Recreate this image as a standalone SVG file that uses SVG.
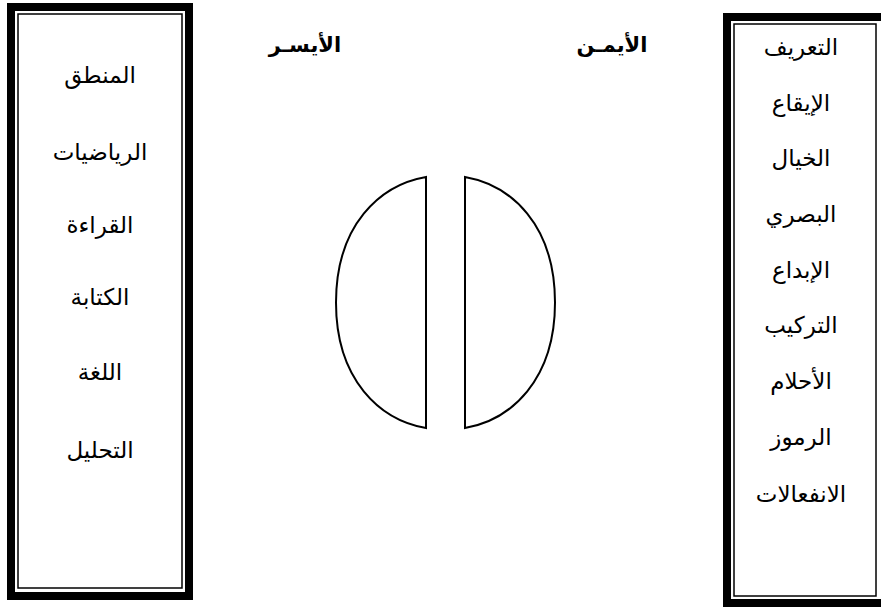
<svg xmlns="http://www.w3.org/2000/svg" width="881" height="608" viewBox="0 0 881 608">
<style>
.thick{fill:none;stroke:#000;stroke-width:8}
.thin{fill:none;stroke:#000;stroke-width:1.5}
.t{font-family:"Liberation Sans","DejaVu Sans",sans-serif;font-size:23px;fill:#000;text-anchor:middle}
.h{font-family:"Liberation Serif","DejaVu Sans",serif;font-size:21px;font-weight:bold;fill:#000;text-anchor:middle}
.half{fill:#fff;stroke:#000;stroke-width:2}
</style>
<rect width="881" height="608" fill="#fff"/>
<g id="left-box">
<rect class="thick" x="11" y="7" width="178" height="589"/>
<rect class="thin" x="18" y="14" width="164" height="574"/>
<text class="t" direction="rtl" x="100" y="83">المنطق</text>
<text class="t" direction="rtl" x="100" y="160">الرياضيات</text>
<text class="t" direction="rtl" x="100" y="233">القراءة</text>
<text class="t" direction="rtl" x="100" y="305">الكتابة</text>
<text class="t" direction="rtl" x="100" y="380">اللغة</text>
<text class="t" direction="rtl" x="100" y="458">التحليل</text>
</g>
<g id="right-box">
<rect class="thick" x="727" y="17" width="160" height="586"/>
<rect class="thin" x="734" y="24" width="142" height="572"/>
<text class="t" direction="rtl" x="801" y="55">التعريف</text>
<text class="t" direction="rtl" x="801" y="111">الإيقاع</text>
<text class="t" direction="rtl" x="801" y="166">الخيال</text>
<text class="t" direction="rtl" x="801" y="222">البصري</text>
<text class="t" direction="rtl" x="801" y="278">الإبداع</text>
<text class="t" direction="rtl" x="801" y="333">التركيب</text>
<text class="t" direction="rtl" x="801" y="389">الأحلام</text>
<text class="t" direction="rtl" x="801" y="445">الرموز</text>
<text class="t" direction="rtl" x="801" y="502">الانفعالات</text>
</g>
<g id="label-right">
<text class="h" direction="rtl" x="612" y="52">الأيمـن</text>
</g>
<g id="label-left">
<text class="h" direction="rtl" x="305" y="52">الأيسـر</text>
</g>
<g id="left-hemisphere">
<path class="half" d="M426,177 C380,185 336,225 336,302.5 C336,380 380,420 426,428 Z"/>
</g>
<g id="right-hemisphere">
<path class="half" d="M465,177 C511,185 555,225 555,302.5 C555,380 511,420 465,428 Z"/>
</g>
<g id="connectors"></g>
</svg>
